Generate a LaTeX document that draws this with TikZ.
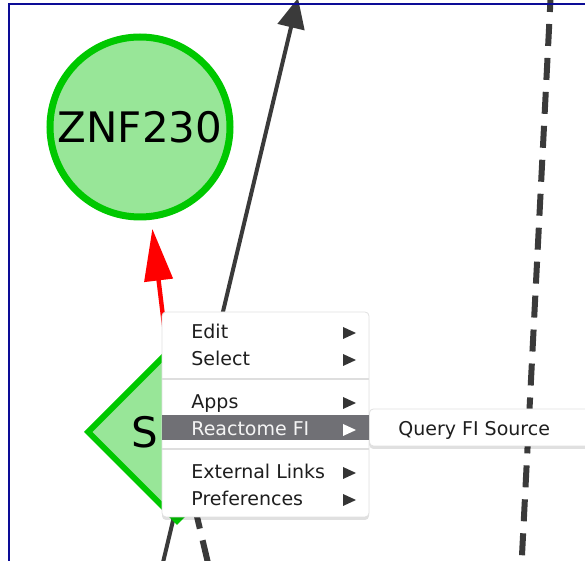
\documentclass[tikz,border=0pt]{standalone}
\usepackage{fontspec}
\setmainfont{DejaVu Sans}
\usepackage{tikz}
\usetikzlibrary{arrows.meta, shapes.geometric, backgrounds, shadows, positioning}

\definecolor{genefill}{RGB}{152,230,152}
\definecolor{geneline}{RGB}{0,200,0}
\definecolor{edgegray}{RGB}{58,58,58}
\definecolor{frameblue}{RGB}{12,12,150}
\definecolor{menuhl}{RGB}{112,112,117}
\definecolor{menusep}{RGB}{222,222,222}
\definecolor{menutext}{RGB}{30,30,30}

\tikzset{
	gene/.style={draw=geneline, fill=genefill, inner sep=0pt, font=\fontsize{21}{25}\selectfont},
	fiedge/.style={draw=edgegray, line width=2pt},
	dashedge/.style={draw=edgegray, line width=3pt, dash pattern=on 11pt off 6pt},
	menubox/.style={draw=black!12, fill=white, line width=0.4pt, rounded corners=2pt, drop shadow={shadow xshift=0pt, shadow yshift=-1.5pt, opacity=0.12, fill=black}},
	menuitem/.style={anchor=base west, inner sep=0pt, text=menutext, font=\fontsize{9.5}{11}\selectfont}
}

\begin{document}
\begin{tikzpicture}[x=0.5pt, y=-0.5pt]
	\useasboundingbox (0,0) rectangle (585,561);
	
	\node[gene, circle, line width=3.5pt, minimum size=90pt] (znf) at (140,127) {ZNF230};
	\node[gene, diamond, line width=3pt, minimum width=90pt, minimum height=90pt] (spi) at (177,432) {SPI1};
	
	\coordinate (lowend) at (160,575);
	\coordinate (topend) at (298,-2);
	\coordinate (dashend) at (212,580);
	\coordinate (farup) at (551,-10);
	\coordinate (fardown) at (521,575);
	
	\begin{scope}[on background layer]
		\draw[draw=red, line width=2.2pt, -{Triangle[length=26pt, width=14pt]}, shorten >=4.5pt] (spi) -- (znf);
		\draw[fiedge, -{Triangle[length=15pt, width=13.5pt]}] (lowend) -- (topend);
		\draw[dashedge] (spi) -- (dashend);
		\draw[dashedge] (farup) -- (fardown);
	\end{scope}
	
	\node[menubox, minimum width=103.5pt, minimum height=102.5pt] (menu) at (265.5,414.5) {};
	\fill[menuhl] (162,415) rectangle (369,440);
	\draw[menusep, line width=0.6pt] (162,379) -- (369,379);
	\draw[menusep, line width=0.6pt] (162,449) -- (369,449);
	
	\foreach \y/\t in {339/Edit, 366/Select, 409/Apps, 479/External Links, 506/Preferences}
	\node[menuitem] (item\y) at (191,\y) {\t};
	\node[menuitem, text=white!92!gray] (reactome) at (191,436) {Reactome FI};
	
	\foreach \y in {339, 366, 409, 479, 506}
	\fill[menutext!90!white] (343,\y-12) -- (356,\y-6) -- (343,\y) -- cycle;
	\fill[white] (343,424) -- (356,430) -- (343,436) -- cycle;
	
	\node[menubox, anchor=west, minimum width=112pt, minimum height=18.5pt] (submenu) at (369,427.5) {};
	\node[menuitem] (query) at (398,436) {Query FI Source};
	
	\draw[frameblue, line width=1pt] (8.5,561) -- (8.5,4.5) -- (585,4.5);
\end{tikzpicture}
\end{document}
